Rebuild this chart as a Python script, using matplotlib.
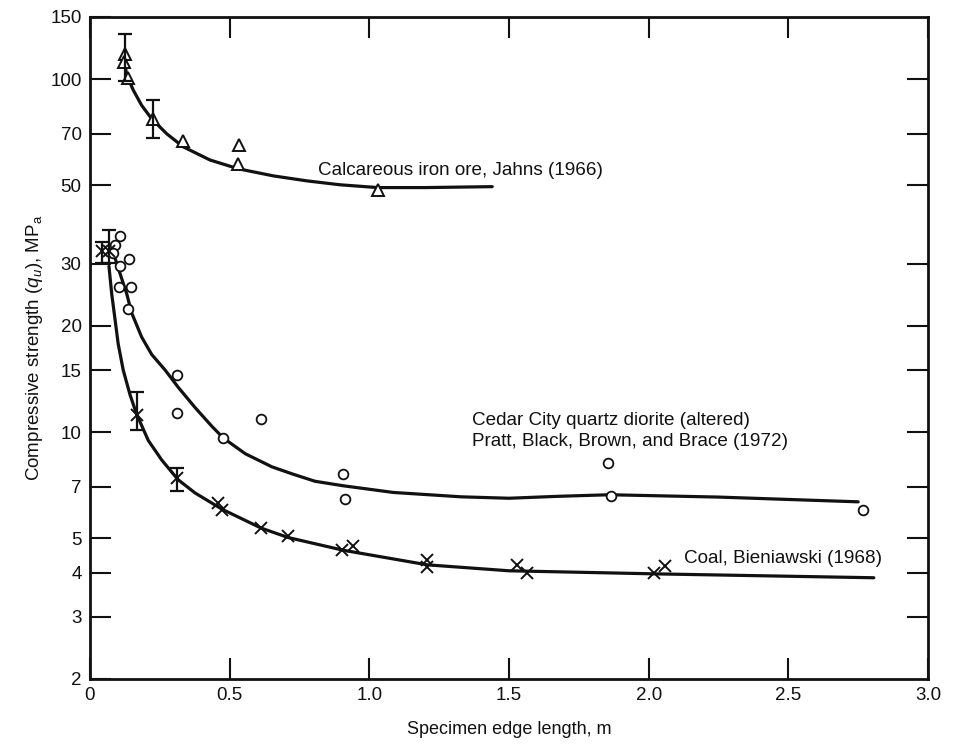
import matplotlib
matplotlib.use("Agg")
import matplotlib.pyplot as plt
from matplotlib.ticker import FixedLocator, FixedFormatter, NullLocator

plt.rcParams['font.family'] = ['Liberation Sans', 'DejaVu Sans']
plt.rcParams['mathtext.fontset'] = 'custom'
plt.rcParams['mathtext.rm'] = 'Liberation Sans'
plt.rcParams['mathtext.it'] = 'Liberation Sans:italic'

# ---- Calcareous iron ore, Jahns (1966) : triangles ----
iron_x = [0.125, 0.122, 0.136, 0.226, 0.333, 0.534, 0.531, 1.03]
iron_y = [117.6, 112.0, 100.8, 77.3, 67.0, 64.9, 57.5, 48.5]
iron_err_x = [0.125, 0.226]
iron_err_c = [115.0, 77.3]
iron_err_lo = [99.0, 68.2]
iron_err_hi = [134.0, 87.0]
iron_curve_x = [0.125, 0.131, 0.155, 0.185, 0.221, 0.275, 0.334, 0.43, 0.532,
                0.657, 0.777, 0.896, 1.03, 1.2, 1.44]
iron_curve_y = [111, 103, 93.1, 84.3, 77.2, 70.0, 64.3, 59.0, 55.7,
                53.2, 51.5, 50.2, 49.3, 49.3, 49.6]

# ---- Cedar City quartz diorite : circles ----
dio_x = [0.108, 0.090, 0.082, 0.140, 0.108, 0.104, 0.147, 0.136, 0.312, 0.312,
         0.613, 0.477, 0.907, 0.914, 1.853, 1.864, 2.767]
dio_y = [35.9, 34.0, 32.1, 30.9, 29.6, 25.8, 25.8, 22.3, 14.5, 11.3,
         10.9, 9.6, 7.6, 6.48, 8.2, 6.6, 6.03]
dio_curve_x = [0.090, 0.101, 0.132, 0.149, 0.185, 0.221, 0.269, 0.316, 0.376, 0.436,
               0.478, 0.556, 0.651, 0.728, 0.806, 0.907, 1.086, 1.33, 1.5, 1.67,
               1.86, 2.25, 2.75]
dio_curve_y = [31.1, 29.2, 24.6, 21.8, 18.6, 16.6, 15.0, 13.4, 11.75, 10.4,
               9.62, 8.69, 7.98, 7.6, 7.26, 7.05, 6.75, 6.56, 6.5, 6.58,
               6.65, 6.55, 6.35]

# ---- Coal, Bieniawski (1968) : crosses ----
coal_x = [0.043, 0.068, 0.168, 0.312, 0.459, 0.473, 0.613, 0.71, 0.903, 0.94,
          1.208, 1.208, 1.53, 1.566, 2.02, 2.06]
coal_y = [32.6, 32.6, 11.2, 7.4, 6.32, 6.03, 5.37, 5.07, 4.63, 4.76,
          4.35, 4.16, 4.21, 4.0, 3.98, 4.19]
coal_err_x = [0.043, 0.068, 0.168, 0.312]
coal_err_c = [32.6, 32.6, 11.2, 7.4]
coal_err_lo = [30.2, 30.2, 10.15, 6.82]
coal_err_hi = [34.5, 37.4, 13.0, 7.9]
coal_curve_x = [0.068, 0.078, 0.090, 0.101, 0.119, 0.143, 0.167, 0.209, 0.257, 0.316,
                0.376, 0.473, 0.613, 0.71, 0.907, 1.208, 1.5, 2.02, 2.806]
coal_curve_y = [29.5, 24.6, 20.8, 17.8, 15.0, 12.8, 11.25, 9.47, 8.34, 7.33,
                6.73, 6.05, 5.35, 5.03, 4.63, 4.21, 4.05, 3.97, 3.87]

y_ticks = [2, 3, 4, 5, 7, 10, 15, 20, 30, 50, 70, 100, 150]
y_ticklabels = ['2', '3', '4', '5', '7', '10', '15', '20', '30', '50', '70', '100', '150']
y_right_ticks = [3, 4, 5, 7, 10, 15, 20, 30, 50, 70, 100]
x_ticks = [0, 0.5, 1.0, 1.5, 2.0, 2.5, 3.0]
x_ticklabels = ['0', '0.5', '1.0', '1.5', '2.0', '2.5', '3.0']

fig = plt.figure(figsize=(9.56, 7.44), dpi=100)
ax = fig.add_axes([0.0941, 0.0874, 0.8766, 0.8898])
ax.set_yscale('log')
ax.set_xlim(0, 3.0)
ax.set_ylim(2, 150)

lw = 2.3
col = '#111111'
for cx, cy in [(iron_curve_x, iron_curve_y), (dio_curve_x, dio_curve_y), (coal_curve_x, coal_curve_y)]:
    ax.plot(cx, cy, color=col, lw=lw, solid_capstyle='round', solid_joinstyle='round')

ax.plot(iron_x, iron_y, linestyle='none', marker='^', ms=8, mfc='white', mec=col, mew=1.4)
ax.plot(dio_x, dio_y, linestyle='none', marker='o', ms=7, mfc='white', mec=col, mew=1.3)
ax.plot(coal_x, coal_y, linestyle='none', marker='x', ms=8, mec=col, mew=1.4)

def errbars(xs, cs, lo, hi):
    yerr = [[c - l for c, l in zip(cs, lo)], [h - c for c, h in zip(cs, hi)]]
    ax.errorbar(xs, cs, yerr=yerr, fmt='none', ecolor=col, elinewidth=1.6,
                capsize=5, capthick=1.6)

errbars(iron_err_x, iron_err_c, iron_err_lo, iron_err_hi)
errbars(coal_err_x, coal_err_c, coal_err_lo, coal_err_hi)

fs = 13.6
ax.text(0.817, 55, 'Calcareous iron ore, Jahns (1966)', fontsize=fs, va='center', ha='left', color=col)
ax.text(1.369, 10.8, 'Cedar City quartz diorite (altered)', fontsize=fs, va='center', ha='left', color=col)
ax.text(1.369, 9.4, 'Pratt, Black, Brown, and Brace (1972)', fontsize=fs, va='center', ha='left', color=col)
ax.text(2.125, 4.38, 'Coal, Bieniawski (1968)', fontsize=fs, va='center', ha='left', color=col)

# ticks
ax.yaxis.set_major_locator(FixedLocator(y_ticks))
ax.yaxis.set_major_formatter(FixedFormatter(y_ticklabels))
ax.yaxis.set_minor_locator(NullLocator())
ax.xaxis.set_major_locator(FixedLocator(x_ticks))
ax.xaxis.set_major_formatter(FixedFormatter(x_ticklabels))
ax.xaxis.set_minor_locator(NullLocator())
ax.tick_params(axis='both', which='major', direction='in', length=15, width=1.5,
               labelsize=13.5, pad=6, colors=col)
ax.tick_params(axis='x', top=True, labeltop=False)
ax.tick_params(axis='y', right=False)

# right-side ticks (subset)
axr = ax.twinx()
axr.set_yscale('log')
axr.set_ylim(2, 150)
axr.yaxis.set_major_locator(FixedLocator(y_right_ticks))
axr.yaxis.set_minor_locator(NullLocator())
axr.tick_params(axis='y', direction='in', length=15, width=1.5, labelright=False, colors=col)
for s in ax.spines.values():
    s.set_linewidth(2.0)
    s.set_color(col)
for s in axr.spines.values():
    s.set_visible(False)

ax.set_xlabel('Specimen edge length, m', fontsize=13, labelpad=12, color=col)
ax.set_ylabel(r'Compressive strength $(q_u)$, MP$_{\mathrm{a}}$', fontsize=13.5, labelpad=4, color=col)

fig.savefig('out.png', dpi=100)
